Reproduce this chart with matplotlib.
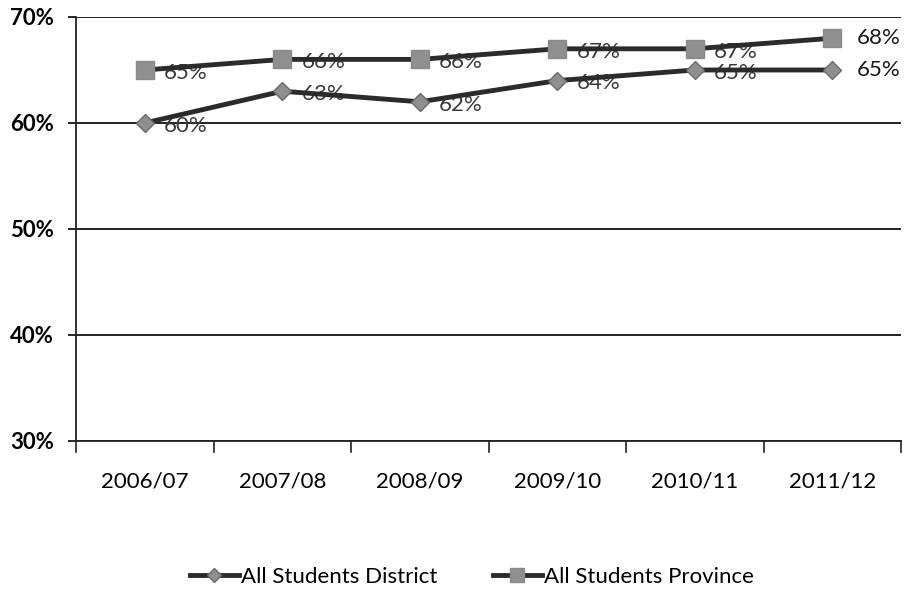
import matplotlib
matplotlib.use("Agg")
import matplotlib.pyplot as plt
from matplotlib.ticker import FuncFormatter

years = ["2006/07", "2007/08", "2008/09", "2009/10", "2010/11", "2011/12"]
district = [60, 63, 62, 64, 65, 65]
province = [65, 66, 66, 67, 67, 68]
y_ticks = [30, 40, 50, 60, 70]

plt.rcParams["font.family"] = ["Lato", "DejaVu Sans"]

fig = plt.figure(figsize=(9.11, 5.89), dpi=100)
ax = fig.add_axes([76 / 911, 1 - 441 / 589, 825 / 911, (441 - 17) / 589])

x = list(range(len(years)))
line_col = "#2b2b2b"
mark_col = "#8f8f8f"

ax.plot(x, district, color=line_col, lw=3.5, marker="D", ms=9,
        mfc=mark_col, mec="#6a6a6a", mew=1, label="All Students District", zorder=3)
ax.plot(x, province, color=line_col, lw=3.5, marker="s", ms=13,
        mfc=mark_col, mec="#8a8a8a", mew=1, label="All Students Province", zorder=3)

for series in (district, province):
    for i, v in enumerate(series):
        last = i == len(series) - 1
        ax.annotate(f"{v}%", (i, v), xytext=(14 if not last else 18, -2 if not last else 0),
                    textcoords="offset points", va="center", ha="left", fontsize=16,
                    color="#1a1a1a" if last else "#3a3a3a", zorder=4 if last else 2)

ax.set_xlim(-0.5, len(years) - 0.5)
ax.set_ylim(30, 70)
ax.set_yticks(y_ticks)
ax.yaxis.set_major_formatter(FuncFormatter(lambda v, p: f"{int(v)}%"))
ax.set_xticks(x)
ax.set_xticklabels(years)
ax.grid(axis="y", color="#111111", lw=1.3)
ax.set_axisbelow(True)

for s in ["top", "right"]:
    ax.spines[s].set_visible(False)
ax.spines["left"].set_color("#222222")
ax.spines["left"].set_linewidth(1.3)
ax.spines["bottom"].set_color("#222222")
ax.spines["bottom"].set_linewidth(1.3)

ax.tick_params(axis="y", length=6, width=1.2, labelsize=16, pad=10, direction="out")
ax.tick_params(axis="x", length=0, labelsize=16, pad=22)
for lbl in ax.get_yticklabels():
    lbl.set_fontweight("bold")

# category boundary ticks on the x axis
for b in range(len(years) + 1):
    ax.plot([b - 0.5, b - 0.5], [30, 29.0], color="#222222", lw=1.2, clip_on=False)

ax.legend(loc="center", bbox_to_anchor=(0.48, -0.32), ncol=2, frameon=False,
          fontsize=16, handlelength=2.2, columnspacing=2.5, handletextpad=0.1,
          markerscale=0.8)

fig.savefig("out.png", dpi=100)
